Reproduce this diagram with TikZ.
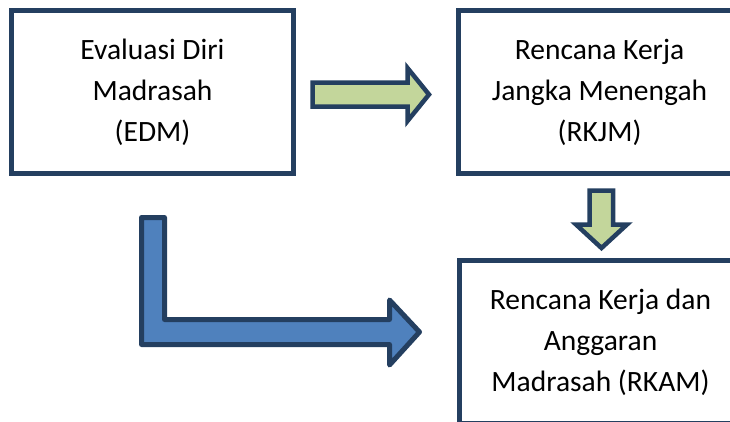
\documentclass[tikz,border=0pt]{standalone}
\usepackage{fontspec}
\setmainfont{Carlito}
\definecolor{navy}{HTML}{243F60}
\definecolor{bluefill}{HTML}{4F81BD}
\definecolor{greenfill}{HTML}{C3D69B}
\begin{document}
\begin{tikzpicture}[x=1pt,y=-1pt,
  box/.style={draw=navy,line width=5pt,fill=white,minimum width=282pt,minimum height=163pt,
    inner sep=0pt,align=center,font=\fontsize{29.5pt}{41pt}\selectfont},
  greenarrow/.style={draw=navy,fill=greenfill,line width=4.5pt,line join=miter},
  bluearrow/.style={draw=navy,fill=bluefill,line width=5pt,line join=round}]
\useasboundingbox (0,0) rectangle (730,421);
\clip (0,0) rectangle (730,421);
\node[box] (edm) at (152.5,92) {Evaluasi Diri\\Madrasah\\(EDM)};
\node[box] (rkjm) at (599.5,92) {Rencana Kerja\\Jangka Menengah\\(RKJM)};
\node[box] (rkam) at (600.5,342) {Rencana Kerja dan\\Anggaran\\Madrasah (RKAM)};
% green right arrow
\draw[greenarrow] (312.5,82.5) -- (407.5,82.5) -- (407.5,68) -- (429,94.5) -- (407.5,121) -- (407.5,106.5) -- (312.5,106.5) -- cycle;
% green down arrow
\draw[greenarrow] (589.5,190.5) -- (613,190.5) -- (613,224.5) -- (627,224.5) -- (601.5,248) -- (576,224.5) -- (589.5,224.5) -- cycle;
% blue bent arrow
\draw[bluearrow] (141.5,217.5) -- (164.5,217.5) -- (164.5,319.5) -- (389.5,319.5) -- (389.5,300) -- (419.5,332) -- (389.5,365) -- (389.5,344.5) -- (141.5,344.5) -- cycle;
\end{tikzpicture}
\end{document}
